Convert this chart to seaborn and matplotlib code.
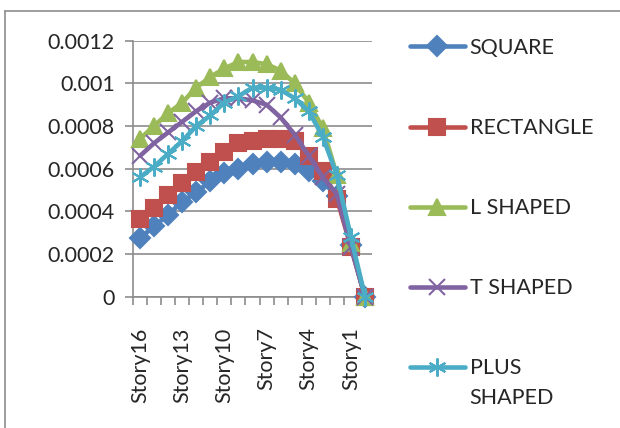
import numpy as np
import pandas as pd
import matplotlib
matplotlib.use("Agg")
import matplotlib.pyplot as plt
import seaborn as sns

# -------------------------
# Data
# -------------------------
stories = ["Story16", "Story15", "Story14", "Story13", "Story12", "Story11",
           "Story10", "Story9", "Story8", "Story7", "Story6", "Story5",
           "Story4", "Story3", "Story2", "Story1", "Base"]

square = [0.000275, 0.00033, 0.000385, 0.000445, 0.00049, 0.00054, 0.00058,
          0.0006, 0.00062, 0.00063, 0.00063, 0.00062, 0.00059, 0.00054,
          0.00047, 0.00024, 0.0]
rectangle = [0.000365, 0.000416, 0.000477, 0.000533, 0.000586, 0.000633,
             0.00068, 0.00072, 0.00073, 0.00074, 0.00074, 0.00073, 0.00066,
             0.00059, 0.00046, 0.000234, 0.0]
l_shaped = [0.00074, 0.0008, 0.00086, 0.00091, 0.00098, 0.00103, 0.00107,
            0.0011, 0.0011, 0.00109, 0.00106, 0.001, 0.00091, 0.00079,
            0.00057, 0.00025, 0.0]
t_shaped = [0.00066, 0.00072, 0.00077, 0.00082, 0.00087, 0.00091, 0.00093,
            0.00093, 0.00092, 0.0009, 0.00084, 0.00076, 0.00066, 0.00056,
            0.00048, 0.000234, 0.0]
plus_shaped = [0.00056, 0.00061, 0.00067, 0.00073, 0.0008, 0.00085, 0.00091,
               0.00094, 0.00098, 0.00098, 0.00097, 0.00093, 0.00087, 0.00075,
               0.00057, 0.00028, 0.0]

series_names = ["SQUARE", "RECTANGLE", "L SHAPED", "T SHAPED", "PLUS"]
series_values = [square, rectangle, l_shaped, t_shaped, plus_shaped]
y_ticks = [0, 0.0002, 0.0004, 0.0006, 0.0008, 0.001, 0.0012]
y_tick_labels = ["0", "0.0002", "0.0004", "0.0006", "0.0008", "0.001", "0.0012"]

colors = ["#4F81BD", "#C0504D", "#9BBB59", "#8064A2", "#4BACC6"]
markers = ["D", "s", "^", "x", (6, 2, 0)]
msizes = [10, 11, 12, 11, 13]

df = pd.DataFrame({
    "story": stories * len(series_names),
    "value": sum(series_values, []),
    "series": np.repeat(series_names, len(stories)),
})

FS = 15.5

# -------------------------
# Plot
# -------------------------
sns.set_style("white")
plt.rcParams["font.family"] = ["Lato", "DejaVu Sans"]

fig = plt.figure(figsize=(6.2, 4.28), dpi=100)
ax = fig.add_axes([133 / 620, 1 - 296.7 / 428, 239 / 620, 256 / 428])

for name, c, m, ms in zip(series_names, colors, markers, msizes):
    sub = df[df["series"] == name]
    sns.lineplot(data=sub, x="story", y="value", ax=ax, color=c, lw=3.3,
                 marker=m, markersize=ms, markeredgecolor=c,
                 markeredgewidth=1.5, label=name, clip_on=False, zorder=3,
                 sort=False)

ax.set_xlim(-0.5, len(stories) - 0.5)
ax.set_ylim(0, 0.0012)
ax.set_xlabel("")
ax.set_ylabel("")

ax.set_yticks(y_ticks)
ax.set_yticklabels(y_tick_labels, fontsize=FS)
ax.yaxis.grid(True, color="#8c8c8c", lw=1.2)
ax.set_axisbelow(True)

ax.set_xticks(range(0, len(stories), 3))
ax.set_xticklabels(stories[::3], rotation=90, fontsize=FS, va="top", ha="center")
ax.set_xticks(np.arange(-0.5, len(stories), 1), minor=True)
ax.tick_params(axis="x", which="major", length=0, pad=22)
ax.tick_params(axis="x", which="minor", length=6, color="#8c8c8c", width=1.2,
               direction="out", bottom=True)
ax.tick_params(axis="y", length=6, color="#8c8c8c", width=1.2, left=True,
               pad=7)

for s in ["top", "right"]:
    ax.spines[s].set_visible(False)
for s in ["left", "bottom"]:
    ax.spines[s].set_color("#8c8c8c")
    ax.spines[s].set_linewidth(1.2)

ax.get_legend().remove()
handles, labels = ax.get_legend_handles_labels()
leg = fig.legend(handles, labels, loc="upper left",
                 bbox_to_anchor=(410 / 620, 1 - 38 / 428), frameon=False,
                 fontsize=FS, handlelength=2.55, handletextpad=0.22,
                 labelspacing=2.79, borderaxespad=0, borderpad=0)

fig.canvas.draw()
last = leg.get_texts()[-1]
bb = last.get_window_extent()
fig.text(bb.x0 / 620, (bb.y0 - 30) / 428, "SHAPED", fontsize=FS,
         va="bottom", ha="left")

# chart border (left and top edges visible)
fig.add_artist(plt.Line2D([5 / 620, 5 / 620], [0, 1 - 11 / 428],
                          color="#8c8c8c", lw=1.2))
fig.add_artist(plt.Line2D([5 / 620, 1], [1 - 11 / 428, 1 - 11 / 428],
                          color="#8c8c8c", lw=1.2))

fig.savefig("out.png", dpi=100)
